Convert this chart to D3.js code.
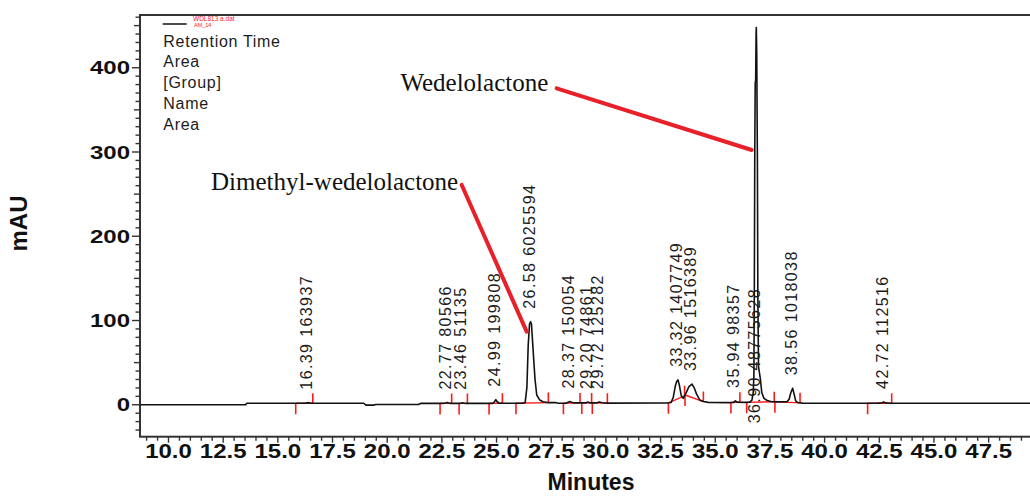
<!DOCTYPE html>
<html>
<head>
<meta charset="utf-8">
<script src="https://cdn.jsdelivr.net/npm/d3@7"></script>
<style>
  html, body { margin: 0; padding: 0; background: #ffffff; }
  svg { display: block; }
</style>
</head>
<body>
<script>
// Detector trace of the run: retention time (min) and absorbance (mAU)
const traceTime = [
  8.72, 13.55, 13.6, 16.25, 16.39, 16.55, 18.95, 19.05, 19.4, 19.5, 21.45, 21.55,
  22.6, 22.77, 22.9,
  23.35, 23.46, 23.6,
  24.85, 24.93, 24.99, 25.05, 25.15,
  26.2, 26.33, 26.41, 26.47, 26.53, 26.58, 26.62, 26.7, 26.78, 26.86, 27.0, 27.15, 27.35, 27.75, 27.85,
  28.2, 28.3, 28.37, 28.45, 28.6,
  29.1, 29.2, 29.3,
  29.6, 29.72, 29.85, 30.1,
  32.8,
  33.0, 33.1, 33.2, 33.26, 33.32, 33.38, 33.47, 33.56,
  33.7, 33.82, 33.96, 34.06, 34.17, 34.32, 34.48, 34.7,
  35.7, 35.85, 35.94, 36.02, 36.4,
  36.6, 36.7, 36.76, 36.79, 36.81, 36.83, 36.85, 36.87, 36.89, 36.90, 36.92, 36.95, 36.97, 37.0, 37.08, 37.15, 37.25, 37.4, 37.6,
  37.9, 38.3, 38.4, 38.47, 38.56, 38.63, 38.7, 38.8, 39.0,
  42.4, 42.65, 42.72, 42.8, 43.0,
  50.1
];
const traceMAU = [
  -0.5, -0.5, 1.2, 1.2, 1.9, 1.2, 1.2, -1.0, -1.0, -0.3, -0.3, 1.0,
  1.0, 2.0, 1.0,
  1.0, 1.8, 1.0,
  1.0, 3.0, 5.5, 3.0, 1.2,
  1.2, 2.0, 20, 70, 95, 98, 95, 62, 30, 11, 5, 3, 2, 1.9, 1.2,
  1.2, 2.5, 3.2, 2.4, 1.6,
  1.6, 2.6, 1.6,
  1.6, 2.8, 1.8, 1.3,
  1.5,
  2.0, 8, 22, 27, 29, 23, 10, 7,
  14, 21, 24, 19.5, 12, 5, 3.2, 2.2,
  2.0, 2.2, 4.0, 2.4, 2.2,
  2.5, 5, 14, 35, 140, 300, 382, 384, 440, 447, 415, 290, 130, 45, 31, 14, 7, 4.5, 3,
  2.8, 3, 6, 13, 19, 12, 4, 2, 1.4,
  1.2, 1.6, 2.8, 1.6, 1.2,
  1.2
];

// Integrated peaks: retention time, area, integration start and end (min)
const peakRT    = [16.39, 22.77, 23.46, 24.99, 26.58, 28.37, 29.20, 29.72, 33.32, 33.96, 35.94, 36.90, 38.56, 42.72];
const peakArea  = [163937, 80566, 51135, 199808, 6025594, 150054, 74861, 125282, 1407749, 1516389, 98357, 48775628, 1018038, 112516];
const peakStart = [15.84, 22.44, 23.31, 24.68, 25.91, 28.08, 28.92, 29.40, 32.88, 33.64, 35.74, 36.46, 37.75, 41.99];
const peakEnd   = [16.62, 22.97, 23.69, 25.29, 27.39, 28.84, 29.37, 30.09, 33.62, 34.48, 36.15, 37.72, 38.90, 43.09];

// Compound call-outs: name, text anchor, leader start and leader end (min, mAU)
const calloutName = ["Wedelolactone", "Dimethyl-wedelolactone"];
const calloutText = [[27.39, 372], [23.27, 254.4]];
const calloutFrom = [[27.77, 375], [23.43, 260.3]];
const calloutTo   = [[36.69, 301.8], [26.40, 86.2]];

// Legend rows of the report header
const legendRows = ["Retention Time", "Area", "[Group]", "Name", "Area"];
const legendFile = ["WDL813 a.dat", "AM_14"];

// Axis ticks
const xMajor = d3.range(4, 20).map(i => i * 2.5);
const xMinor = d3.range(18, 100).map(i => i / 2).filter(v => v % 2.5 !== 0);
const yMajor = [0, 100, 200, 300, 400];
const yMinor = d3.range(-30, 461, 10).filter(v => v % 100 !== 0);

const W = 1030, H = 497;
const plot = { left: 140, top: 15, right: 1045, bottom: 436.7 };

const svg = d3.select("body").append("svg").attr("width", W).attr("height", H);

const x = d3.scaleLinear().domain([8.72, 50.1]).range([plot.left, plot.right]);
const y = d3.scaleLinear().domain([-38.5, 462]).range([plot.bottom, plot.top]);

const trace = traceTime.map((t, i) => [t, traceMAU[i]]);
const bis = d3.bisector(d => d[0]).left;
function traceAt(t) {
  const i = Math.max(1, Math.min(trace.length - 1, bis(trace, t)));
  const a = trace[i - 1], b = trace[i];
  const f = (t - a[0]) / (b[0] - a[0]);
  return a[1] + f * (b[1] - a[1]);
}

svg.append("defs").append("clipPath").attr("id", "plotClip")
  .append("rect").attr("x", plot.left).attr("y", plot.top)
  .attr("width", plot.right - plot.left).attr("height", plot.bottom - plot.top);

const axisColor = "#333333";
const sansBold = "'Liberation Sans', Arial, sans-serif";

// ---- Y axis ----
const yMinorAxis = svg.append("g").attr("transform", `translate(${plot.left},0)`)
  .call(d3.axisLeft(y).tickValues(yMinor).tickSizeOuter(0).tickFormat(""));
yMinorAxis.selectAll(".tick line").attr("x2", d => (d % 50 === 0 ? -6 : -4.5));
yMinorAxis.select(".domain").remove();

const yMajorAxis = svg.append("g").attr("transform", `translate(${plot.left},0)`)
  .call(d3.axisLeft(y).tickValues(yMajor).tickSize(8).tickSizeOuter(0));
yMajorAxis.select(".domain").remove();
yMajorAxis.selectAll("text")
  .attr("x", -10 / 1.3).attr("dy", "0.36em")
  .attr("transform", "scale(1.3,1)")
  .style("font-family", sansBold).style("font-weight", "bold")
  .style("font-size", "18.5px").style("fill", "#111");

// ---- X axis ----
const xMinorAxis = svg.append("g").attr("transform", `translate(0,${plot.bottom})`)
  .call(d3.axisBottom(x).tickValues(xMinor.filter(v => x(v) > plot.left + 1 && x(v) < W)).tickSize(4).tickSizeOuter(0).tickFormat(""));
xMinorAxis.select(".domain").remove();

const xMajorAxis = svg.append("g").attr("transform", `translate(0,${plot.bottom})`)
  .call(d3.axisBottom(x).tickValues(xMajor).tickSize(6).tickSizeOuter(0).tickFormat(d3.format(".1f")));
xMajorAxis.select(".domain").remove();
xMajorAxis.selectAll("text")
  .attr("y", 7.5).attr("dy", "0.71em")
  .attr("transform", "scale(1.2,1)")
  .style("font-family", sansBold).style("font-weight", "bold")
  .style("font-size", "20px").style("fill", "#111");

svg.selectAll(".tick line").attr("stroke", axisColor).attr("stroke-width", 1.4);

// plot frame
svg.append("rect")
  .attr("x", plot.left).attr("y", plot.top)
  .attr("width", plot.right - plot.left).attr("height", plot.bottom - plot.top)
  .attr("fill", "none").attr("stroke", axisColor).attr("stroke-width", 2);

// axis titles
svg.append("text")
  .attr("x", 591).attr("y", 490)
  .attr("text-anchor", "middle")
  .style("font-family", sansBold).style("font-weight", "bold").style("font-size", "23px")
  .style("fill", "#111")
  .text("Minutes");

svg.append("text")
  .attr("transform", "translate(27,223.5) rotate(-90)")
  .attr("text-anchor", "middle")
  .style("font-family", sansBold).style("font-weight", "bold").style("font-size", "24px")
  .style("fill", "#111")
  .text("mAU");

// ---- Plot content ----
const inner = svg.append("g").attr("clip-path", "url(#plotClip)");

// integration baselines and start / end markers
const red = "#ff1a1a";
peakRT.forEach((rt, i) => {
  const s = peakStart[i], e = peakEnd[i];
  const ys = y(traceAt(s)), ye = y(traceAt(e));
  inner.append("line")
    .attr("x1", x(s)).attr("y1", ys).attr("x2", x(e)).attr("y2", ye)
    .attr("stroke", red).attr("stroke-width", 1.4);
  inner.append("line")
    .attr("x1", x(s)).attr("y1", ys).attr("x2", x(s)).attr("y2", ys + 11)
    .attr("stroke", red).attr("stroke-width", 1.6);
  inner.append("line")
    .attr("x1", x(e)).attr("y1", ye).attr("x2", x(e)).attr("y2", ye - 10)
    .attr("stroke", red).attr("stroke-width", 1.6);
});

// detector trace
inner.append("path")
  .datum(trace)
  .attr("fill", "none")
  .attr("stroke", "#111")
  .attr("stroke-width", 1.6)
  .attr("stroke-linejoin", "round")
  .attr("d", d3.line().x(d => x(d[0])).y(d => y(d[1])));

// peak labels: "RT area", written upward above each peak
const labelFont = 16, labelSpacing = 1.4;
peakRT.forEach((rt, i) => {
  const txt = rt.toFixed(2) + " " + peakArea[i];
  const top = d3.max(trace.filter(d => d[0] >= peakStart[i] && d[0] <= peakEnd[i]), d => d[1]);
  const approxLen = txt.length * 9.6;
  let y0 = Math.min(y(top), y(0)) - 13;
  if (y0 - approxLen < plot.top) y0 = y(0) + 19;
  inner.append("text")
    .attr("transform", `translate(${x(rt) + 4},${y0}) rotate(-90)`)
    .attr("text-anchor", "start")
    .style("font-family", "'Liberation Sans', Arial, sans-serif")
    .style("font-size", labelFont + "px")
    .style("letter-spacing", labelSpacing + "px")
    .style("fill", "#1c1c1c")
    .text(txt);
});

// compound call-outs
calloutName.forEach((name, i) => {
  inner.append("line")
    .attr("x1", x(calloutFrom[i][0])).attr("y1", y(calloutFrom[i][1]))
    .attr("x2", x(calloutTo[i][0])).attr("y2", y(calloutTo[i][1]))
    .attr("stroke", "#e8202a").attr("stroke-width", 4).attr("stroke-linecap", "round");
  inner.append("text")
    .attr("x", x(calloutText[i][0])).attr("y", y(calloutText[i][1]))
    .attr("text-anchor", "end")
    .style("font-family", "'Liberation Serif', 'Times New Roman', serif")
    .style("font-size", "25px")
    .style("fill", "#111")
    .text(name);
});

// legend block
const leg = svg.append("g");
leg.append("line").attr("x1", 162.7).attr("x2", 186.7).attr("y1", 24).attr("y2", 24)
  .attr("stroke", "#111").attr("stroke-width", 1.5);
legendFile.forEach((t, i) => {
  leg.append("text").attr("x", 193 + i * 1).attr("y", 20.5 + i * 6.5)
    .style("font-family", "'Liberation Sans', Arial, sans-serif")
    .style("font-size", i === 0 ? "6.5px" : "5.5px")
    .style("fill", "#ff2020")
    .text(t);
});
legendRows.forEach((t, i) => {
  leg.append("text").attr("x", 163.3).attr("y", 46.7 + i * 20.7)
    .style("font-family", "'Liberation Sans', Arial, sans-serif")
    .style("font-size", "16px")
    .style("letter-spacing", "0.7px")
    .style("fill", "#1c1c1c")
    .text(t);
});
</script>
</body>
</html>
